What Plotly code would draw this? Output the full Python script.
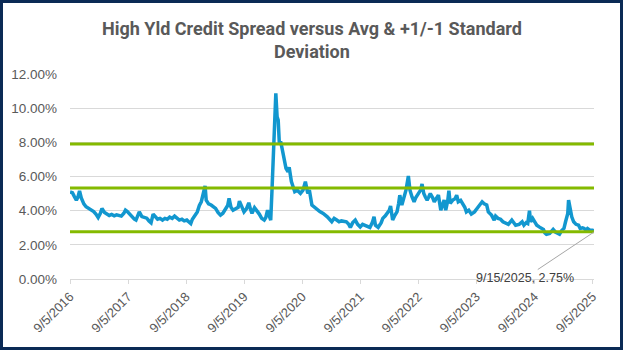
import plotly.graph_objects as go

# ---- data ----
dates = [
 "2016-09-05","2016-09-20","2016-10-01","2016-10-15","2016-10-25","2016-11-04","2016-11-15","2016-12-01","2016-12-15",
 "2017-01-01","2017-01-15","2017-02-01","2017-02-15","2017-03-01","2017-03-15","2017-03-25","2017-04-10","2017-04-25",
 "2017-05-10","2017-05-25","2017-06-10","2017-06-25","2017-07-10","2017-07-25","2017-08-10","2017-08-20","2017-09-01",
 "2017-09-15","2017-10-01","2017-10-15","2017-10-25","2017-11-08","2017-11-15","2017-12-01","2017-12-15",
 "2018-01-01","2018-01-15","2018-01-28","2018-02-10","2018-02-25","2018-03-10","2018-03-25","2018-04-10","2018-04-25",
 "2018-05-10","2018-05-25","2018-06-10","2018-06-25","2018-07-10","2018-07-25","2018-08-10","2018-08-25","2018-09-10",
 "2018-09-25","2018-10-05","2018-10-15","2018-10-30","2018-11-15","2018-11-28","2018-12-10","2018-12-20",
 "2019-01-03","2019-01-10","2019-01-25","2019-02-10","2019-02-25","2019-03-10","2019-03-25","2019-04-10","2019-04-25",
 "2019-05-10","2019-05-25","2019-06-03","2019-06-15","2019-06-28","2019-07-15","2019-07-30","2019-08-07","2019-08-20",
 "2019-09-05","2019-09-20","2019-10-05","2019-10-15","2019-10-25","2019-11-10","2019-11-25","2019-12-10","2019-12-25",
 "2020-01-10","2020-01-20","2020-01-31","2020-02-10","2020-02-20","2020-02-28","2020-03-09","2020-03-16","2020-03-23",
 "2020-03-31","2020-04-07","2020-04-14","2020-04-22","2020-05-01","2020-05-12","2020-05-26","2020-06-08","2020-06-15",
 "2020-06-29","2020-07-20","2020-08-05","2020-08-25","2020-09-10","2020-09-25","2020-10-10","2020-10-20","2020-11-05",
 "2020-11-20","2020-12-10","2020-12-25",
 "2021-01-15","2021-02-10","2021-03-10","2021-03-25","2021-04-10","2021-04-25","2021-05-10","2021-05-25","2021-06-10",
 "2021-06-25","2021-07-05","2021-07-20","2021-08-05","2021-08-20","2021-09-05","2021-09-20","2021-10-05","2021-10-20",
 "2021-11-05","2021-11-20","2021-12-01","2021-12-10","2021-12-27",
 "2022-01-15","2022-01-25","2022-02-10","2022-02-20","2022-03-07","2022-03-15","2022-03-28","2022-04-12","2022-04-25",
 "2022-05-05","2022-05-12","2022-05-25","2022-06-02","2022-06-10","2022-06-20","2022-07-05","2022-07-15","2022-07-28",
 "2022-08-10","2022-08-20","2022-08-31","2022-09-10","2022-09-20","2022-09-29","2022-10-10","2022-10-20","2022-10-31",
 "2022-11-10","2022-11-20","2022-12-05","2022-12-15","2022-12-28",
 "2023-01-10","2023-01-25","2023-02-05","2023-02-15","2023-02-25","2023-03-10","2023-03-17","2023-03-25","2023-04-10",
 "2023-04-25","2023-05-05","2023-05-15","2023-05-30","2023-06-10","2023-06-25","2023-07-05","2023-07-20","2023-08-05",
 "2023-08-25","2023-09-10","2023-09-25","2023-10-12","2023-10-25","2023-11-10","2023-11-20","2023-12-10","2023-12-27",
 "2024-01-05","2024-01-20","2024-02-05","2024-02-20","2024-03-10","2024-03-25","2024-04-16","2024-05-01","2024-05-10",
 "2024-06-01","2024-06-20","2024-07-01","2024-07-15","2024-07-25","2024-08-05","2024-08-12","2024-08-25","2024-09-10",
 "2024-09-20","2024-10-05","2024-10-20","2024-11-01","2024-11-10","2024-11-20","2024-12-10","2024-12-20",
 "2025-01-01","2025-01-15","2025-01-25","2025-02-10","2025-02-25","2025-03-10","2025-03-20","2025-04-03","2025-04-08",
 "2025-04-15","2025-04-28","2025-05-10","2025-05-25","2025-06-10","2025-06-20","2025-07-05","2025-07-15","2025-07-25",
 "2025-08-05","2025-08-20","2025-09-05","2025-09-15",
]
spread = [
 5.10,5.05,4.85,4.62,4.80,5.15,4.75,4.40,4.23,
 4.15,4.03,3.95,3.80,3.60,3.85,4.13,3.90,3.80,
 3.72,3.78,3.70,3.76,3.72,3.68,3.85,4.03,3.95,
 3.80,3.62,3.50,3.45,3.70,3.93,3.65,3.62,
 3.56,3.40,3.29,3.80,3.60,3.50,3.55,3.45,3.55,
 3.50,3.62,3.55,3.68,3.55,3.45,3.50,3.40,3.45,
 3.35,3.25,3.50,3.75,3.93,4.30,4.52,4.90,
 5.45,4.62,4.40,4.33,4.20,4.13,3.90,3.74,3.85,
 4.13,4.30,4.72,4.20,4.03,4.10,4.20,4.56,4.25,
 3.93,4.10,4.46,4.10,3.84,4.17,4.00,3.80,3.55,
 3.45,3.60,4.03,3.70,3.45,5.20,7.50,9.00,10.87,
 9.50,9.30,7.97,8.05,7.66,7.16,6.48,6.28,6.54,
 5.70,5.11,5.20,5.01,5.20,5.70,5.01,5.21,4.33,
 4.20,4.03,3.95,
 3.84,3.64,3.35,3.55,3.45,3.35,3.40,3.35,3.35,
 3.20,3.02,3.30,3.45,3.20,3.05,3.20,3.15,3.05,
 3.02,3.30,3.64,3.15,3.02,
 3.30,3.55,3.70,3.84,4.03,4.27,3.45,3.74,3.95,
 4.43,4.91,4.33,4.60,5.00,5.20,6.03,5.20,4.80,
 4.52,4.75,4.91,5.00,5.20,5.56,5.00,4.80,4.62,
 4.80,5.00,4.75,4.52,4.72,
 4.91,4.03,4.40,4.62,4.03,4.60,5.17,4.43,4.62,
 4.70,4.91,4.52,4.60,4.43,4.20,3.93,4.03,3.80,
 3.93,4.13,4.30,4.52,4.40,4.33,3.93,3.74,3.45,
 3.68,3.55,3.50,3.35,3.25,3.20,3.45,3.30,3.15,
 3.20,3.35,3.15,3.30,3.25,4.00,3.35,3.55,3.30,
 3.15,3.05,2.96,2.90,2.70,2.62,2.67,2.80,
 2.90,2.75,2.70,2.62,2.85,2.96,3.35,3.84,4.62,
 4.23,3.64,3.35,3.20,3.15,2.96,3.00,2.96,2.86,
 2.96,2.86,2.86,2.75,
]
avg_level = 5.33
upper_level = 7.90
lower_level = 2.77
tick_dates = ["2016-09-05","2017-09-05","2018-09-05","2019-09-05","2020-09-05",
              "2021-09-05","2022-09-05","2023-09-05","2024-09-05","2025-09-05"]
tick_labels = ["9/5/2016","9/5/2017","9/5/2018","9/5/2019","9/5/2020",
               "9/5/2021","9/5/2022","9/5/2023","9/5/2024","9/5/2025"]
y_ticks = [0, 2, 4, 6, 8, 10, 12]
y_tick_labels = ["0.00%", "2.00%", "4.00%", "6.00%", "8.00%", "10.00%", "12.00%"]
title_text = "High Yld Credit Spread versus Avg & +1/-1 Standard<br>Deviation"
label_text = "9/15/2025, 2.75%"

# ---- figure ----
W, H = 623, 350
ml, mr, mt, mb = 70, 29, 74, 71
pw, ph = W - ml - mr, H - mt - mb

fig = go.Figure()
fig.add_trace(go.Scatter(x=dates, y=spread, mode="lines",
                         line=dict(color="#1297CF", width=3.5), hoverinfo="skip"))
x_span = [dates[0], dates[-1]]
for lvl in (upper_level, avg_level, lower_level):
    fig.add_trace(go.Scatter(x=x_span, y=[lvl, lvl], mode="lines",
                             line=dict(color="#84BA00", width=3), hoverinfo="skip"))

fig.add_annotation(x=dates[-1], y=spread[-1], xref="x", yref="y",
                   text=label_text, showarrow=True, arrowhead=0, arrowwidth=1,
                   arrowcolor="#A6A6A6", ax=-69, ay=46,
                   font=dict(family="Liberation Sans, Arial", size=12.5, color="#404040"))

fig.add_annotation(text=title_text, xref="paper", yref="paper",
                   x=(W / 2 - ml) / pw, y=1 + (mt - 16) / ph, xanchor="center", yanchor="top",
                   showarrow=False,
                   font=dict(family="Roboto", size=18, color="#595959", weight="bold"))

# figure border
inset = 1.5
fig.add_shape(type="rect", xref="paper", yref="paper",
              x0=(-ml + inset) / pw, x1=1 + (mr - inset) / pw,
              y0=(-mb + inset) / ph, y1=1 + (mt - inset) / ph,
              line=dict(color="#0B2A55", width=3), fillcolor="rgba(0,0,0,0)")

fig.update_layout(
    width=W, height=H, margin=dict(l=ml, r=mr, t=mt, b=mb),
    paper_bgcolor="white", plot_bgcolor="white", showlegend=False,
    xaxis=dict(type="date", range=[dates[0], dates[-1]], tickvals=tick_dates, ticktext=tick_labels,
               tickangle=-45, showgrid=False, showline=True, linecolor="#D9D9D9", linewidth=1,
               ticks="outside", ticklen=4, tickcolor="#D9D9D9",
               tickfont=dict(family="Liberation Sans, Arial", size=13, color="#595959"),
               zeroline=False),
    yaxis=dict(range=[0, 12], tickvals=y_ticks, ticktext=y_tick_labels,
               showgrid=True, gridcolor="#D9D9D9", gridwidth=1, zeroline=False,
               showline=False, ticks="", ticklabelstandoff=12,
               tickfont=dict(family="Liberation Sans, Arial", size=13.5, color="#595959")),
)

fig.write_html("out.html")
